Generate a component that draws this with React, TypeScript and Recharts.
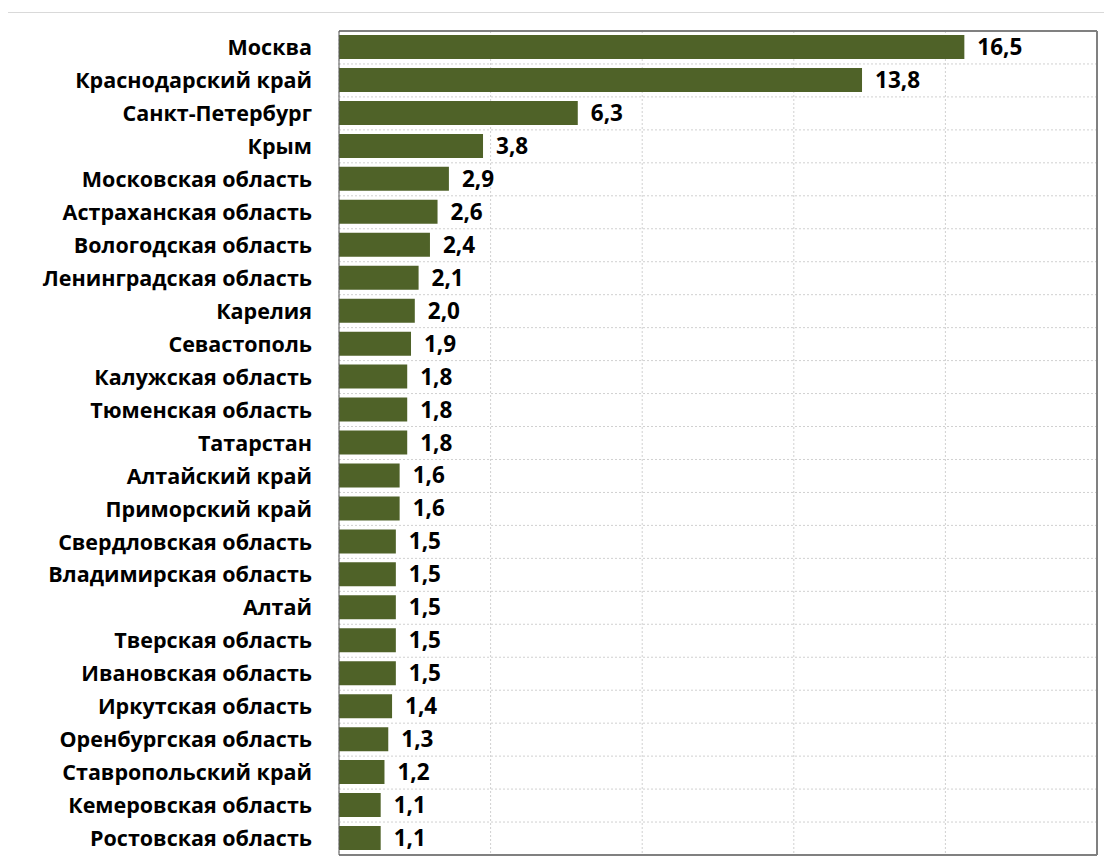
import React from "react";
import { BarChart, Bar, XAxis, YAxis, CartesianGrid, LabelList } from "recharts";

const regions = [
  "Москва",
  "Краснодарский край",
  "Санкт-Петербург",
  "Крым",
  "Московская область",
  "Астраханская область",
  "Вологодская область",
  "Ленинградская область",
  "Карелия",
  "Севастополь",
  "Калужская область",
  "Тюменская область",
  "Татарстан",
  "Алтайский край",
  "Приморский край",
  "Свердловская область",
  "Владимирская область",
  "Алтай",
  "Тверская область",
  "Ивановская область",
  "Иркутская область",
  "Оренбургская область",
  "Ставропольский край",
  "Кемеровская область",
  "Ростовская область",
];

const shares = [
  16.5, 13.8, 6.3, 3.8, 2.9, 2.6, 2.4, 2.1, 2.0, 1.9, 1.8, 1.8, 1.8, 1.6, 1.6, 1.5, 1.5, 1.5, 1.5, 1.5,
  1.4, 1.3, 1.2, 1.1, 1.1,
];

const xTicks = [0, 4, 8, 12, 16, 20];
const xMax = 20;

const data = regions.map((name, i) => ({ name, value: shares[i] }));

const FONT = "'Open Sans', 'Noto Sans', sans-serif";
const fmt = (v: number) => v.toFixed(1).replace(".", ",");

// grid lines between categories, not through their centres
const rowBoundaries = ({ offset }: any) =>
  Array.from({ length: regions.length + 1 }, (_, i) => offset.top + (i * offset.height) / regions.length);

const valueLines = ({ xAxis, offset }: any) =>
  xTicks.map((t) =>
    xAxis && typeof xAxis.scale === "function" ? xAxis.scale(t) : offset.left + (t / xMax) * offset.width
  );

export default function App() {
  return (
    <div
      style={{
        marginTop: 4,
        marginLeft: -1,
        width: 1130,
        height: 880,
        border: "1px solid #d9d9d9",
        background: "#fff",
        fontFamily: FONT,
      }}
    >
      <BarChart
        width={1100}
        height={857}
        data={data}
        layout="vertical"
        margin={{ top: 17, right: 10, left: 0, bottom: 14 }}
      >
        <CartesianGrid
          stroke="#d0d0d0"
          strokeDasharray="2 2"
          horizontalCoordinatesGenerator={rowBoundaries}
          verticalCoordinatesGenerator={valueLines}
        />
        <XAxis
          type="number"
          domain={[0, xMax]}
          ticks={xTicks}
          tick={false}
          tickLine={false}
          height={1}
          axisLine={{ stroke: "#808080", strokeWidth: 2 }}
        />
        <XAxis
          xAxisId="top"
          orientation="top"
          type="number"
          domain={[0, xMax]}
          tick={false}
          tickLine={false}
          height={1}
          axisLine={{ stroke: "#808080", strokeWidth: 2 }}
        />
        <YAxis
          type="category"
          dataKey="name"
          width={331}
          tickLine={false}
          tickSize={0}
          tickMargin={27}
          interval={0}
          axisLine={{ stroke: "#595959", strokeWidth: 1 }}
          tick={{ fill: "#000", fontSize: 21.5, fontWeight: 700, fontFamily: FONT }}
        />
        <YAxis
          yAxisId="right"
          orientation="right"
          type="number"
          domain={[0, 1]}
          tick={false}
          tickLine={false}
          width={1}
          axisLine={{ stroke: "#808080", strokeWidth: 2 }}
        />
        <Bar dataKey="value" fill="#4f6228" barSize={24} isAnimationActive={false}>
          <LabelList
            dataKey="value"
            position="right"
            offset={13}
            formatter={(v: any) => fmt(Number(v))}
            style={{ fill: "#000", fontSize: 22.5, fontWeight: 700, fontFamily: FONT }}
          />
        </Bar>
      </BarChart>
    </div>
  );
}
